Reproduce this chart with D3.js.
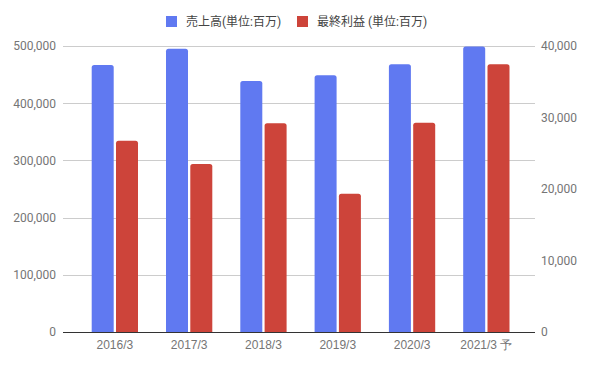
<!DOCTYPE html>
<html><head><meta charset="utf-8">
<script src="https://cdn.jsdelivr.net/npm/d3@7"></script>
<style>
html,body{margin:0;padding:0;background:#fff;}
svg{display:block;font-family:Roboto,"Noto Sans CJK JP",sans-serif;}
</style></head>
<body>
<svg id="c" width="593" height="366"></svg>
<script>
const categories = ["2016/3","2017/3","2018/3","2019/3","2020/3","2021/3 予"];
const sales = [467000, 495000, 439000, 449000, 468000, 499000];
const profit = [26750, 23500, 29200, 19350, 29280, 37450];
const leftTicks = [0,100000,200000,300000,400000,500000];
const rightTicks = [0,10000,20000,30000,40000];
const seriesNames = ["売上高(単位:百万)","最終利益 (単位:百万)"];
const colors = ["#6079f1","#cd443a"];

const svg = d3.select("#c");
const plotL = 63, plotR = 535, plotT = 46, plotB = 332;

const x = d3.scaleBand().domain(categories).range([77.7, 523.5]).paddingInner(0).paddingOuter(0);
const yL = d3.scaleLinear().domain([0,500000]).range([plotB, plotT]);
const yR = d3.scaleLinear().domain([0,40000]).range([plotB, plotT]);

// gridlines
svg.append("g").selectAll("line").data(leftTicks.filter(d=>d>0)).join("line")
  .attr("x1",plotL).attr("x2",plotR)
  .attr("y1",d=>Math.round(yL(d))+0.5).attr("y2",d=>Math.round(yL(d))+0.5)
  .attr("stroke","#cccccc").attr("stroke-width",1);

// left axis
const leftAxis = d3.axisLeft(yL).tickValues(leftTicks).tickFormat(d3.format(",")).tickSize(0).tickPadding(7);
const gL = svg.append("g").attr("transform",`translate(${plotL},0)`).call(leftAxis);
gL.select(".domain").remove();
gL.selectAll("text").attr("fill","#757575").style("font-size","12px").style("font-family","Roboto, sans-serif");

// right axis
const rightAxis = d3.axisRight(yR).tickValues(rightTicks).tickFormat(d3.format(",")).tickSize(0).tickPadding(6);
const gR = svg.append("g").attr("transform",`translate(${plotR},0)`).call(rightAxis);
gR.select(".domain").remove();
gR.selectAll("text").attr("fill","#757575").style("font-size","12px").style("font-family","Roboto, sans-serif");

// bars
const barW = 22, gap = 2.3;
function roundTop(x0, y0, w, h, r){
  r = Math.min(r, h, w/2);
  return `M${x0},${y0+h}V${y0+r}Q${x0},${y0} ${x0+r},${y0}H${x0+w-r}Q${x0+w},${y0} ${x0+w},${y0+r}V${y0+h}Z`;
}
const groupW = barW*2+gap;
svg.append("g").selectAll("path").data(categories).join("path")
  .attr("d",(c,i)=>{const x0 = x(c)+ (x.bandwidth()-groupW)/2; const y0=yL(sales[i]); return roundTop(x0,y0,barW,plotB-y0,2.5);})
  .attr("fill",colors[0]);
svg.append("g").selectAll("path").data(categories).join("path")
  .attr("d",(c,i)=>{const x0 = x(c)+ (x.bandwidth()-groupW)/2 + barW + gap; const y0=yR(profit[i]); return roundTop(x0,y0,barW,plotB-y0,2.5);})
  .attr("fill",colors[1]);

// baseline
svg.append("line").attr("x1",plotL).attr("x2",plotR).attr("y1",plotB+0.5).attr("y2",plotB+0.5)
  .attr("stroke","#333333").attr("stroke-width",1);

// x axis
const xAxis = d3.axisBottom(x).tickSize(0).tickPadding(8);
const gX = svg.append("g").attr("transform",`translate(0,${plotB})`).call(xAxis);
gX.select(".domain").remove();
gX.selectAll("text").attr("fill","#757575").style("font-size","12px");

// legend
const legend = svg.append("g");
const lx = [166, 297];
seriesNames.forEach((n,i)=>{
  legend.append("rect").attr("x",lx[i]).attr("y",16).attr("width",11).attr("height",11).attr("fill",colors[i]);
  legend.append("text").attr("x",lx[i]+20).attr("y",26).text(n).attr("fill","#444444").style("font-size","12px");
});
</script>
</body></html>
